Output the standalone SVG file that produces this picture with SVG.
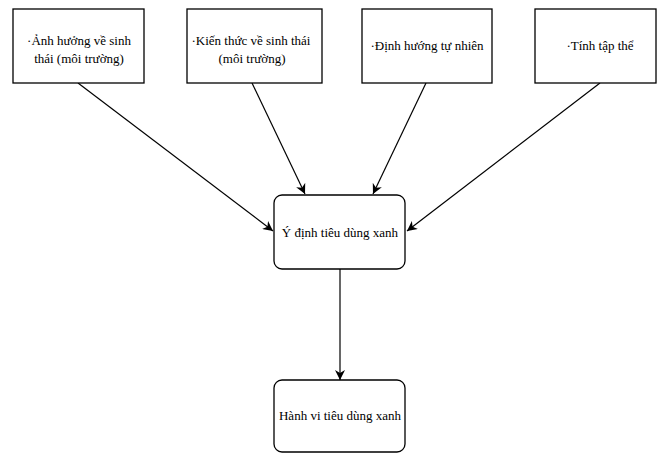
<svg xmlns="http://www.w3.org/2000/svg" width="658" height="453" viewBox="0 0 658 453">
<style>
.box{fill:#fff;stroke:#000;stroke-width:1.3}
.t{font-family:"Liberation Serif","Times New Roman",serif;font-size:13px;fill:#000;text-anchor:middle}
.c{fill:none;stroke:#000;stroke-width:1.2}
</style>
<defs>
<marker id="ah" viewBox="0 0 10 10" refX="10" refY="5" markerWidth="10" markerHeight="10" markerUnits="userSpaceOnUse" orient="auto">
<path d="M0,0 L10,5 L0,10 L3,5 Z" fill="#000"/>
</marker>
</defs>
<rect width="658" height="453" fill="#fff"/>
<g id="connectors">
<line class="c" x1="78" y1="83" x2="273" y2="231" marker-end="url(#ah)"/>
<line class="c" x1="252" y1="83" x2="305" y2="194" marker-end="url(#ah)"/>
<line class="c" x1="426" y1="83" x2="373" y2="194" marker-end="url(#ah)"/>
<line class="c" x1="600" y1="83" x2="407" y2="231" marker-end="url(#ah)"/>
<line class="c" x1="340" y1="269" x2="340" y2="380" marker-end="url(#ah)"/>
</g>
<g id="n1">
<rect class="box" x="13" y="9" width="131" height="74"/>
<text class="t" x="79" y="45">·Ảnh hưởng về sinh</text>
<text class="t" x="79" y="63">thái (môi trường)</text>
</g>
<g id="n2">
<rect class="box" x="187" y="9" width="135" height="74"/>
<text class="t" x="251" y="45">·Kiến thức về sinh thái</text>
<text class="t" x="252" y="63">(môi trường)</text>
</g>
<g id="n3">
<rect class="box" x="362" y="9" width="130" height="74"/>
<text class="t" x="427" y="50">·Định hướng tự nhiên</text>
</g>
<g id="n4">
<rect class="box" x="535" y="9" width="121" height="74"/>
<text class="t" x="600" y="50">·Tính tập thể</text>
</g>
<g id="n5">
<rect class="box" x="274" y="195" width="131" height="74" rx="8"/>
<text class="t" x="340" y="237">Ý định tiêu dùng xanh</text>
</g>
<g id="n6">
<rect class="box" x="274" y="380" width="131" height="72" rx="8"/>
<text class="t" x="340" y="420">Hành vi tiêu dùng xanh</text>
</g>
</svg>
